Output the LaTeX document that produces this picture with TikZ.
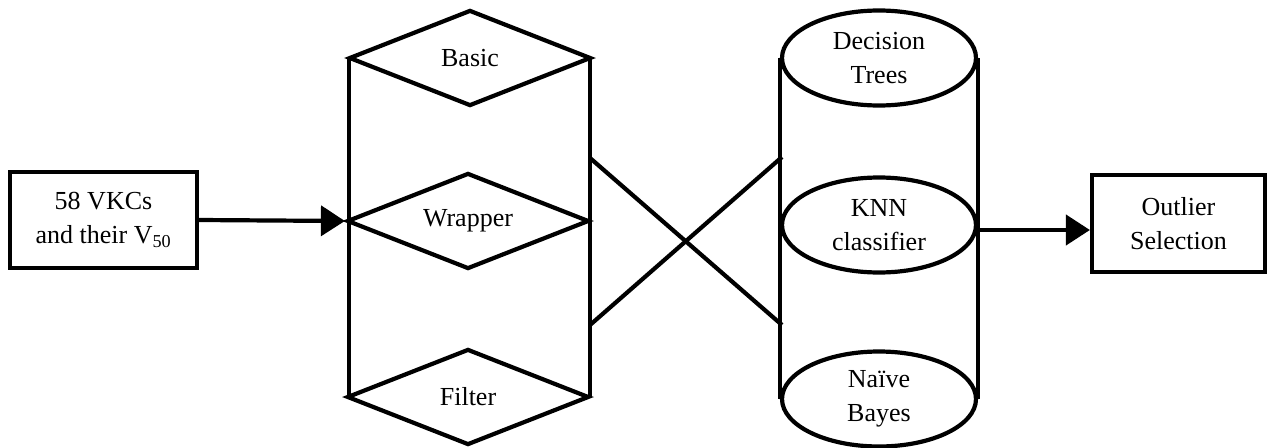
\documentclass[tikz,border=0pt]{standalone}
\usepackage{fontspec}
\setmainfont{Liberation Serif}
\usetikzlibrary{shapes.geometric,arrows.meta,calc}
\begin{document}
\begin{tikzpicture}[x=1pt,y=-1pt,
  every node/.style={font=\fontsize{26}{34}\selectfont, align=center, inner sep=0pt},
  boxnode/.style={draw, line width=4.2pt, minimum width=187pt, minimum height=96pt},
  selnode/.style={draw, fill=white, diamond, shape aspect=2.5, line width=4.2pt, minimum width=242pt, minimum height=96pt},
  clsnode/.style={draw, fill=white, ellipse, line width=4.2pt, minimum width=194pt, minimum height=95pt},
  wall/.style={line width=4.2pt},
  flow/.style={line width=4.2pt, -{Triangle[length=24pt,width=30pt]}}]
\useasboundingbox (0,0) rectangle (1271,447);

% input and output boxes
\node[boxnode] (src) at (103.5,220) {58 VKCs\\and their V\textsubscript{50}};
\node[boxnode, minimum width=173pt, minimum height=97pt] (out) at (1178.5,223.5) {Outlier\\Selection};

% feature selection column
\draw[wall] (349,58) -- (349,397);
\draw[wall] (590,58) -- (590,397);
\node[selnode] (basic) at (470,58) {Basic};
\node[selnode] (wrap) at (468,221) {Wrapper};
\node[selnode] (filter) at (468,397) {Filter};

% classifier cylinder
\node[clsnode] (dt) at (879,58) {Decision\\Trees};
\node[clsnode] (nb) at (879,399) {Naïve\\Bayes};
\draw[wall] (dt.west) -- (nb.west);
\draw[wall] (dt.east) -- (nb.east);
\node[clsnode] (knn) at (879,225) {KNN\\classifier};

% crossing links between the two columns
\coordinate (la) at (590,158);
\coordinate (lb) at (590,325);
\coordinate (ra) at (782,157);
\coordinate (rb) at (782,325);
\draw[wall] (la) -- (rb);
\draw[wall] (lb) -- (ra);

% data flow
\draw[flow] (src.east) -- (wrap.west);
\draw[flow] (knn.east |- 0,230) -- (out.west |- 0,230);
\end{tikzpicture}
\end{document}
